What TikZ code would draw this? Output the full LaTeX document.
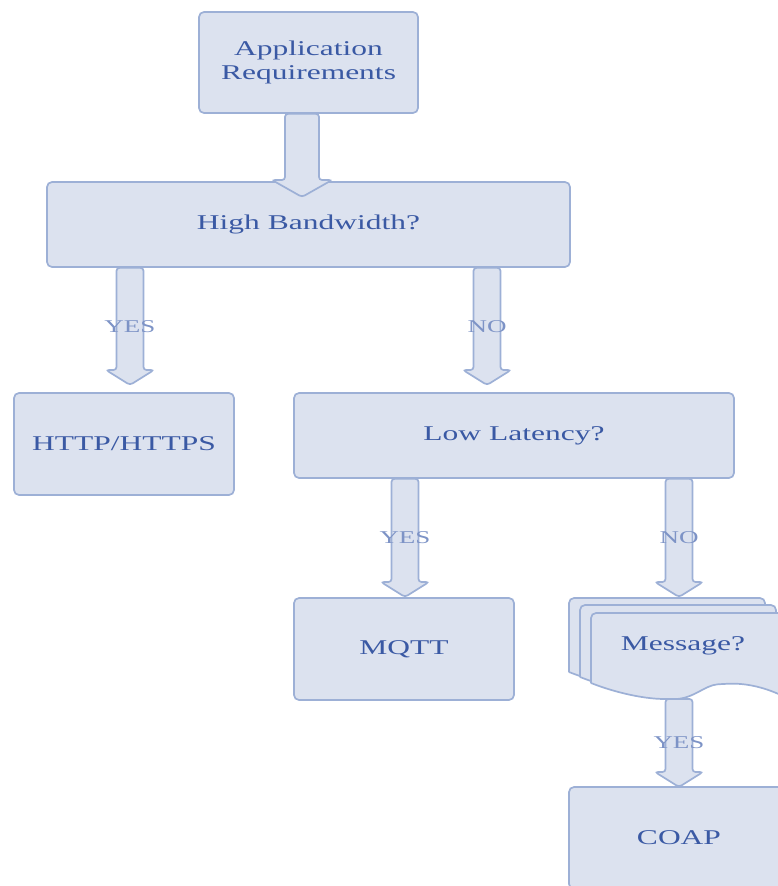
\documentclass[tikz,border=0pt]{standalone}
\usepackage{fontspec}
\setmainfont{Liberation Serif}[FakeStretch=1.5]
\usepackage{tikz}
\usetikzlibrary{calc}
\definecolor{boxfill}{HTML}{DCE2EF}
\definecolor{boxline}{HTML}{9DB0D6}
\definecolor{boxtext}{HTML}{3A59A4}
\definecolor{labeltext}{HTML}{7D93C6}

\begin{document}
\begin{tikzpicture}[x=1pt,y=-1pt,
  box/.style={rectangle,draw=boxline,fill=boxfill,line width=1.7pt,rounded corners=5pt,
              text=boxtext,align=center,font=\fontsize{21}{24}\selectfont,inner sep=0pt},
  doc/.style={draw=boxline,fill=boxfill,line width=1.7pt,rounded corners=5pt},
  lbl/.style={text=labeltext,font=\fontsize{18}{21}\selectfont,inner sep=0pt},
  blockarrow/.style n args={3}{draw=boxline,fill=boxfill,line width=1.7pt,rounded corners=3pt,
    to path={let \p1=(\tikztostart),\p2=(\tikztotarget) in
      (\x1-#1,\y1) -- (\x1-#1,\y2+#3) -- (\x1-#2,\y2+#3) -- (\x2,\y2)
      -- (\x1+#2,\y2+#3) -- (\x1+#1,\y2+#3) -- (\x1+#1,\y1) -- cycle}},
  bigarrow/.style={blockarrow={17pt}{30pt}{17pt}},
  smallarrow/.style={blockarrow={13.5pt}{24pt}{15pt}}
]
\useasboundingbox (0,0) rectangle (778,886);

\node[box,minimum width=219pt,minimum height=101pt] (app) at (308.5,62.5)
  {Application\\Requirements};
\node[box,minimum width=523pt,minimum height=85pt] (hb) at (308.5,224.5) {High Bandwidth?};
\node[box,minimum width=220pt,minimum height=102pt] (http) at (124,444) {HTTP/HTTPS};
\node[box,minimum width=440pt,minimum height=85pt] (ll) at (514,435.5) {Low Latency?};
\node[box,minimum width=220pt,minimum height=102pt] (mqtt) at (404,649) {MQTT};
\node[box,minimum width=220pt,minimum height=102pt] (coap) at (679,838) {COAP};

% stacked documents, wavy bottom
\foreach \l/\t/\b in {569/598/672, 580/605/677, 591/613/683}
  \draw[doc] (\l,\b) -- (\l,\t) -- (\l+196,\t) -- (\l+196,\b+15)
    .. controls (\l+171,\b+3) and (\l+152,\b) .. (\l+132,\b+1)
    .. controls (\l+114,\b+2) and (\l+102,\b+16) .. (\l+79,\b+16)
    .. controls (\l+50,\b+16) and (\l+20,\b+8) .. (\l,\b);
\node[text=boxtext,font=\fontsize{21}{24}\selectfont] (msg) at (683,646) {Message?};
\coordinate (msgb) at (679,699);

\coordinate (t1) at (302,197);
\coordinate (t2) at (130,385);
\coordinate (t3) at (487,385);
\coordinate (t4) at (405,597);
\coordinate (t5) at (679,597);
\coordinate (t6) at (679,787);

\draw[bigarrow] (app.south -| t1) to (t1);
\draw[smallarrow] (hb.south -| t2) to (t2);
\draw[smallarrow] (hb.south -| t3) to (t3);
\draw[smallarrow] (ll.south -| t4) to (t4);
\draw[smallarrow] (ll.south -| t5) to (t5);
\draw[smallarrow] (msgb) to (t6);

\node[lbl] at ($(hb.south -| t2)!0.5!(t2)$) {YES};
\node[lbl] at ($(hb.south -| t3)!0.5!(t3)$) {NO};
\node[lbl] at ($(ll.south -| t4)!0.5!(t4)$) {YES};
\node[lbl] at ($(ll.south -| t5)!0.5!(t5)$) {NO};
\node[lbl] at ($(msgb)!0.5!(t6)$) {YES};
\end{tikzpicture}
\end{document}
